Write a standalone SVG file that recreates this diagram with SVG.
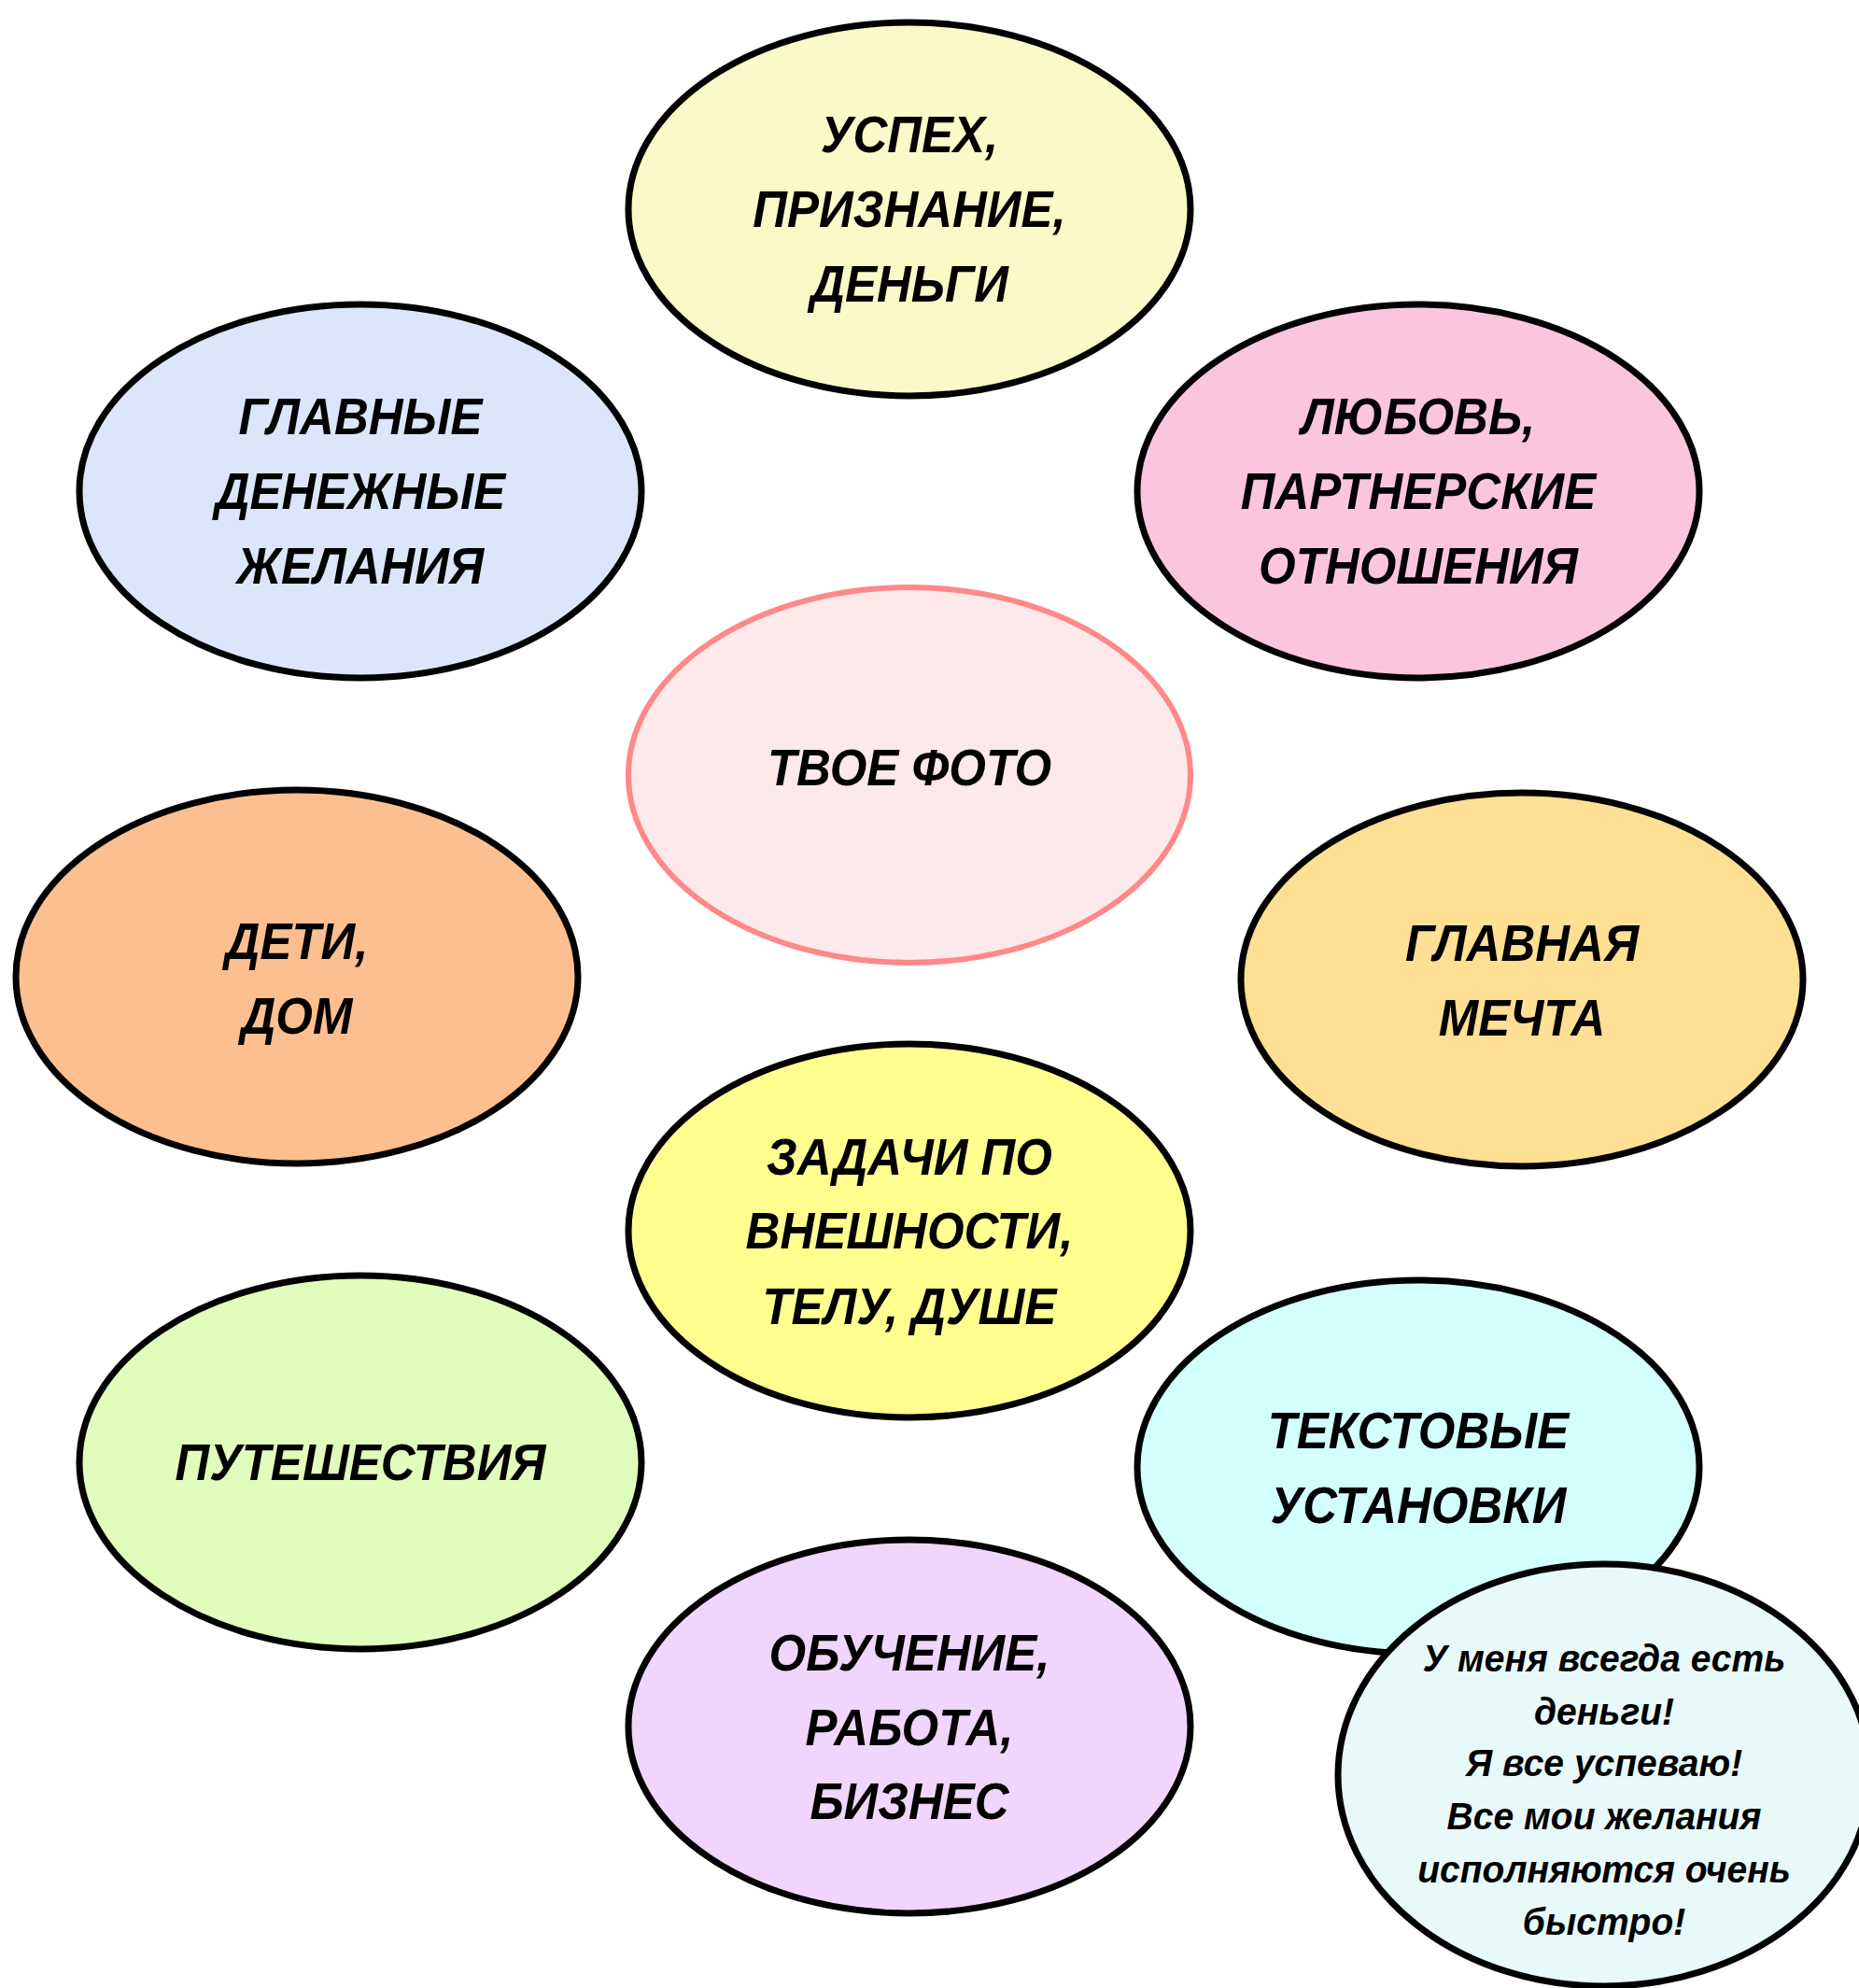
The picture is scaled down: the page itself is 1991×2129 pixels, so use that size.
<svg xmlns="http://www.w3.org/2000/svg" width="1991" height="2129" viewBox="0 0 1991 2129">
<style>
  .n { stroke: #000; stroke-width: 7; }
  .t { font-family: "Liberation Sans", Arial, sans-serif; font-weight: bold; font-style: italic; font-size: 51px; text-anchor: middle; fill: #000; }
  .s { font-family: "Liberation Sans", Arial, sans-serif; font-weight: bold; font-style: italic; font-size: 39px; text-anchor: middle; fill: #000; }
</style>
<rect width="1991" height="2129" fill="#fff"/>
<g id="connectors"/>
<g id="n-uspekh">
  <ellipse class="n" cx="974" cy="224" rx="301" ry="200" fill="#FAFAC8"/>
  <text class="t" transform="translate(974,163) scale(1,1.08)">УСПЕХ,</text>
  <text class="t" transform="translate(974,243) scale(1,1.08)">ПРИЗНАНИЕ,</text>
  <text class="t" transform="translate(974,323) scale(1,1.08)">ДЕНЬГИ</text>
</g>
<g id="n-money">
  <ellipse class="n" cx="386" cy="526" rx="301" ry="200" fill="#DCE6FB"/>
  <text class="t" transform="translate(386,465) scale(1,1.08)">ГЛАВНЫЕ</text>
  <text class="t" transform="translate(386,545) scale(1,1.08)">ДЕНЕЖНЫЕ</text>
  <text class="t" transform="translate(386,625) scale(1,1.08)">ЖЕЛАНИЯ</text>
</g>
<g id="n-love">
  <ellipse class="n" cx="1519" cy="526" rx="301" ry="200" fill="#FCC5DE"/>
  <text class="t" transform="translate(1519,465) scale(1,1.08)">ЛЮБОВЬ,</text>
  <text class="t" transform="translate(1519,545) scale(1,1.08)">ПАРТНЕРСКИЕ</text>
  <text class="t" transform="translate(1519,625) scale(1,1.08)">ОТНОШЕНИЯ</text>
</g>
<g id="n-photo">
  <ellipse cx="974" cy="830" rx="301" ry="201" fill="#FDE9E9" stroke="#FF8888" stroke-width="6"/>
  <text class="t" transform="translate(974,841) scale(1,1.08)">ТВОЕ ФОТО</text>
</g>
<g id="n-kids">
  <ellipse class="n" cx="318" cy="1046" rx="301" ry="200" fill="#FDBF8F"/>
  <text class="t" transform="translate(318,1027) scale(1,1.08)">ДЕТИ,</text>
  <text class="t" transform="translate(318,1107) scale(1,1.08)">ДОМ</text>
</g>
<g id="n-dream">
  <ellipse class="n" cx="1630" cy="1049" rx="301" ry="200" fill="#FEDF93"/>
  <text class="t" transform="translate(1630,1029) scale(1,1.08)">ГЛАВНАЯ</text>
  <text class="t" transform="translate(1630,1109) scale(1,1.08)">МЕЧТА</text>
</g>
<g id="n-tasks">
  <ellipse class="n" cx="974" cy="1318" rx="301" ry="200" fill="#FFFF90"/>
  <text class="t" transform="translate(974,1258) scale(1,1.08)">ЗАДАЧИ ПО</text>
  <text class="t" transform="translate(974,1337) scale(1,1.08)">ВНЕШНОСТИ,</text>
  <text class="t" transform="translate(974,1418) scale(1,1.08)">ТЕЛУ, ДУШЕ</text>
</g>
<g id="n-travel">
  <ellipse class="n" cx="386" cy="1566" rx="301" ry="200" fill="#E0FDBC"/>
  <text class="t" transform="translate(386,1585) scale(1,1.08)">ПУТЕШЕСТВИЯ</text>
</g>
<g id="n-text">
  <ellipse class="n" cx="1519" cy="1571" rx="301" ry="200" fill="#D2FEFB"/>
  <text class="t" transform="translate(1519,1551) scale(1,1.08)">ТЕКСТОВЫЕ</text>
  <text class="t" transform="translate(1519,1631) scale(1,1.08)">УСТАНОВКИ</text>
</g>
<g id="n-study">
  <ellipse class="n" cx="974" cy="1849" rx="301" ry="200" fill="#F0D5FC"/>
  <text class="t" transform="translate(974,1789) scale(1,1.08)">ОБУЧЕНИЕ,</text>
  <text class="t" transform="translate(974,1869) scale(1,1.08)">РАБОТА,</text>
  <text class="t" transform="translate(974,1948) scale(1,1.08)">БИЗНЕС</text>
</g>
<g id="n-affirm">
  <ellipse class="n" cx="1718" cy="1901" rx="285" ry="226" fill="#E8F9F9"/>
  <text class="s" transform="translate(1718,1790) scale(1,1.06)">У меня всегда есть</text>
  <text class="s" transform="translate(1718,1847) scale(1,1.06)">деньги!</text>
  <text class="s" transform="translate(1718,1902) scale(1,1.06)">Я все успеваю!</text>
  <text class="s" transform="translate(1718,1959) scale(1,1.06)">Все мои желания</text>
  <text class="s" transform="translate(1718,2016) scale(1,1.06)">исполняются очень</text>
  <text class="s" transform="translate(1718,2072) scale(1,1.06)">быстро!</text>
</g>
</svg>
